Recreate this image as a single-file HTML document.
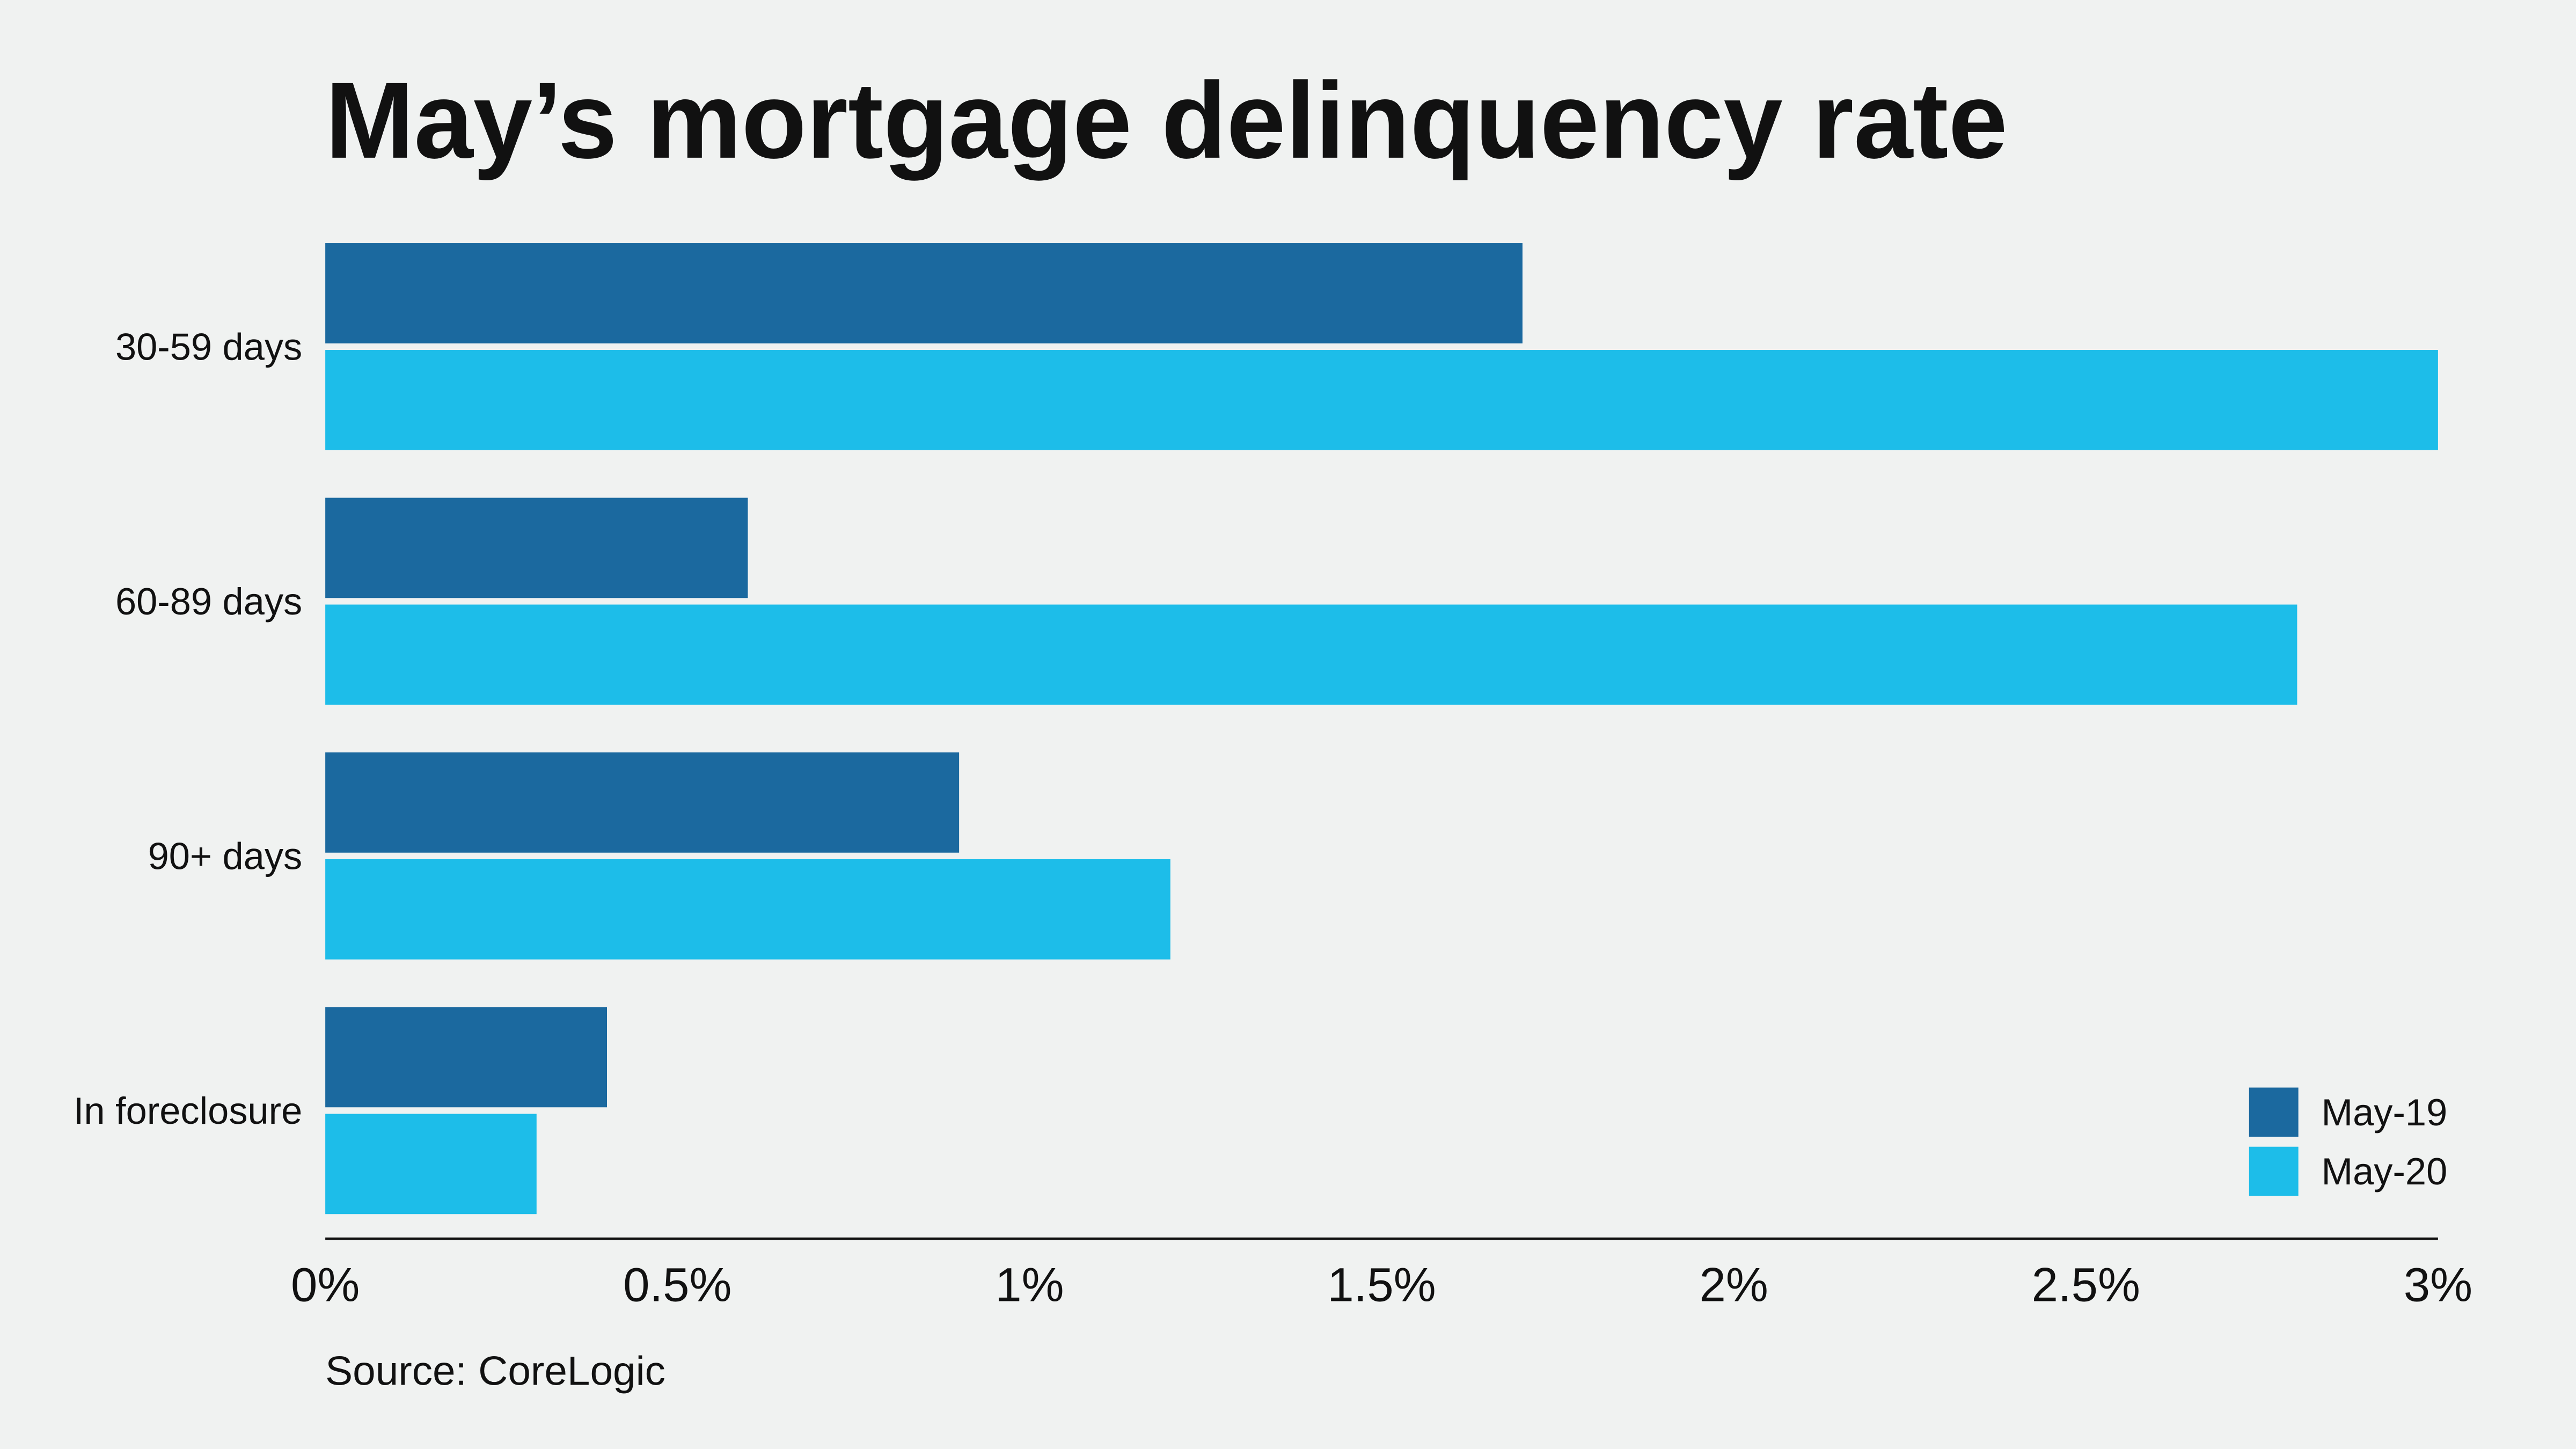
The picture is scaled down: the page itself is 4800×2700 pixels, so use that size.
<!DOCTYPE html>
<html><head><meta charset="utf-8"><style>
html,body{margin:0;padding:0;background:#f0f2f1;}
svg{display:block;}
text{font-family:"Liberation Sans",sans-serif;fill:#111;}
</style></head><body>
<svg id="chart" width="4800" height="2700" viewBox="0 0 1568 882" xmlns="http://www.w3.org/2000/svg">
<rect width="1568" height="882" fill="#f0f2f1"/>
<text x="198" y="96" font-size="66" font-weight="bold" textLength="1024" lengthAdjust="spacingAndGlyphs">May’s mortgage delinquency rate</text>
<g id="bars"></g>
<line x1="198" y1="754" x2="1484" y2="754" stroke="#111" stroke-width="1.5"/>
<g id="ticks"></g>
<g id="legend"></g>
<text x="198" y="843" font-size="25">Source: CoreLogic</text>
</svg>
<script>
const categories = ["30-59 days","60-89 days","90+ days","In foreclosure"];
const may19 = [1.7,0.6,0.9,0.4];
const may20 = [3.0,2.8,1.2,0.3];
const tickValues = [0,0.5,1,1.5,2,2.5,3];
const tickLabels = ["0%","0.5%","1%","1.5%","2%","2.5%","3%"];
const seriesNames = ["May-19","May-20"];
const colors = ["#1b699f","#1dbde9"];
const NS="http://www.w3.org/2000/svg";
const x0=198, x1=1484, maxV=3;
function xs(v){return x0+(v/maxV)*(x1-x0);}
function groupTop(i){return 148+i*155;}
const barH=61, gap=4;
const bars=document.getElementById('bars');
categories.forEach((c,i)=>{
  [may19,may20].forEach((s,k)=>{
    const r=document.createElementNS(NS,'rect');
    r.setAttribute('x',x0);
    r.setAttribute('y',groupTop(i)+k*(barH+gap));
    r.setAttribute('width',xs(s[i])-x0);
    r.setAttribute('height',barH);
    r.setAttribute('fill',colors[k]);
    
    
    bars.appendChild(r);
  });
  const t=document.createElementNS(NS,'text');
  t.setAttribute('x',184);
  t.setAttribute('y',groupTop(i)+barH+gap/2+8);
  t.setAttribute('text-anchor','end');
  t.setAttribute('font-size','23');
  t.textContent=c;
  
  
  bars.appendChild(t);
});
const ticks=document.getElementById('ticks');
tickValues.forEach((v,i)=>{
  const t=document.createElementNS(NS,'text');
  t.setAttribute('x',xs(v));
  t.setAttribute('y',792);
  t.setAttribute('text-anchor','middle');
  t.setAttribute('font-size','29');
  t.textContent=tickLabels[i];
  
  
  ticks.appendChild(t);
});
const legend=document.getElementById('legend');
seriesNames.forEach((n,k)=>{
  const r=document.createElementNS(NS,'rect');
  r.setAttribute('x',1369);r.setAttribute('y',662+k*36);
  r.setAttribute('width',30);r.setAttribute('height',30);
  r.setAttribute('fill',colors[k]);
  
  
  legend.appendChild(r);
  const t=document.createElementNS(NS,'text');
  t.setAttribute('x',1413);t.setAttribute('y',685+k*36);
  t.setAttribute('font-size','23');
  t.textContent=n;
  
  
  legend.appendChild(t);
});
</script>
</body></html>
